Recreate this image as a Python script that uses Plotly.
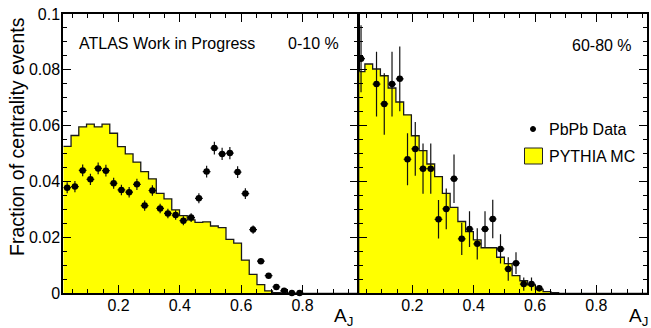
import plotly.graph_objects as go

# ---------------- data ----------------
bin_lo = 0.02
bin_hi = 0.98
n_bins = 38

# 0-10 % centrality
data_0_10 = [0.0378, 0.0382, 0.0440, 0.0408, 0.0447, 0.0439, 0.0394, 0.0370, 0.0362, 0.0390,
             0.0314, 0.0368, 0.0304, 0.0286, 0.0280, 0.0260, 0.0271, 0.0340, 0.0436, 0.0520,
             0.0499, 0.0502, 0.0434, 0.0357, 0.0228, 0.0115, 0.0063, 0.0023, 0.0009, 0.0001, 0.0001]
err_0_10 = [0.0020, 0.0020, 0.0021, 0.0020, 0.0021, 0.0021, 0.0020, 0.0019, 0.0019, 0.0020,
            0.0018, 0.0019, 0.0017, 0.0017, 0.0017, 0.0016, 0.0016, 0.0018, 0.0021, 0.0023,
            0.0022, 0.0022, 0.0021, 0.0019, 0.0015, 0.0010, 0.0008, 0.0005, 0.0003, 0.0001, 0.0001]
mc_0_10 = [0.0526, 0.0565, 0.0596, 0.0606, 0.0596, 0.0606, 0.0573, 0.0525, 0.0499, 0.0470,
           0.0436, 0.0410, 0.0358, 0.0338, 0.0299, 0.0278, 0.0263, 0.0254, 0.0256, 0.0241,
           0.0235, 0.0193, 0.0180, 0.0119, 0.0068, 0.0031, 0.0009, 0.0002]

# 60-80 % centrality
data_60_80 = [0.0840, None, 0.0749, 0.0678, 0.0749, 0.0768, 0.0480, 0.0517, 0.0446, 0.0446,
              0.0265, 0.0302, 0.0410, 0.0195, 0.0230, 0.0177, 0.0230, 0.0266, 0.0159, 0.0087,
              0.0108, 0.0033, 0.0033, 0.0018]
err_60_80 = [0.0120, None, 0.0116, 0.0110, 0.0116, 0.0116, 0.0093, 0.0096, 0.0090, 0.0090,
             0.0069, 0.0073, 0.0087, 0.0058, 0.0064, 0.0056, 0.0064, 0.0069, 0.0052, 0.0042,
             0.0039, 0.0024, 0.0024, 0.0012]
mc_60_80 = [0.0794, 0.0821, 0.0803, 0.0779, 0.0735, 0.0685, 0.0639, 0.0564, 0.0511, 0.0463,
            0.0418, 0.0358, 0.0308, 0.0257, 0.0221, 0.0191, 0.0163, 0.0163, 0.0129, 0.0106,
            0.0063, 0.0045, 0.0030, 0.0014, 0.0006, 0.0002]

panel_labels = ["0-10 %", "60-80 %"]
y_tick_vals = [0, 0.02, 0.04, 0.06, 0.08, 0.1]
x_tick_vals = [0.2, 0.4, 0.6, 0.8]

# ---------------- helpers ----------------
bw = (bin_hi - bin_lo) / n_bins
edges = [bin_lo + i * bw for i in range(n_bins + 1)]
centers = [bin_lo + (i + 0.5) * bw for i in range(n_bins)]

W, H = 651, 328
FONT = "Liberation Sans, Arial, Helvetica, sans-serif"
YELLOW = "#ffff00"


def px_x(p):
    return p / W


def px_y(p):
    return 1 - p / H


def hist_trace(vals, xa, ya):
    full = list(vals) + [0.0] * (n_bins - len(vals))
    return go.Scatter(x=edges, y=full + [full[-1]], mode="lines", line_shape="hv",
                      fill="tozeroy", fillcolor=YELLOW,
                      line=dict(color="#1a1a1a", width=1.3),
                      xaxis=xa, yaxis=ya, showlegend=False, hoverinfo="skip")


def data_trace(vals, errs, xa, ya):
    n = len(vals)
    return go.Scatter(x=centers[:n], y=vals, mode="markers",
                      marker=dict(color="black", size=6.5, symbol="circle"),
                      error_y=dict(type="data", array=errs, visible=True,
                                   color="#111111", thickness=1.2, width=0),
                      error_x=dict(type="constant", value=bw / 2, visible=True,
                                   color="#111111", thickness=1.2, width=0),
                      xaxis=xa, yaxis=ya, showlegend=False, cliponaxis=False)


fig = go.Figure()
fig.add_trace(hist_trace(mc_0_10, "x", "y"))
fig.add_trace(data_trace(data_0_10, err_0_10, "x", "y"))
fig.add_trace(hist_trace(mc_60_80, "x2", "y2"))
fig.add_trace(data_trace(data_60_80, err_60_80, "x2", "y2"))

tickfont = dict(family=FONT, size=16, color="black")
common_x = dict(showline=True, linewidth=2, linecolor="black", mirror="ticks",
                ticks="inside", ticklen=8, tickwidth=1, tickcolor="black",
                tickmode="array", tickvals=x_tick_vals, automargin=False,
                ticklabelstandoff=-4,
                minor=dict(ticks="inside", ticklen=4, tickwidth=1, tickcolor="black",
                           dtick=0.05, tick0=0),
                showgrid=False, zeroline=False, tickfont=tickfont)
common_y = dict(showline=True, linewidth=2, linecolor="black", mirror="ticks",
                ticks="inside", ticklen=8, tickwidth=1, tickcolor="black",
                tickmode="array", tickvals=y_tick_vals, automargin=False,
                ticklabelstandoff=-2,
                minor=dict(ticks="inside", ticklen=4, tickwidth=1, tickcolor="black",
                           dtick=0.005, tick0=0),
                showgrid=False, zeroline=False, tickfont=tickfont, range=[0, 0.1])

ydom = [px_y(293.3), px_y(14)]
fig.update_layout(
    template="none",
    width=W, height=H, margin=dict(l=0, r=0, t=0, b=0, pad=0, autoexpand=False),
    paper_bgcolor="white", plot_bgcolor="white",
    xaxis=dict(domain=[px_x(63.3), px_x(357.7)], range=[bin_lo, bin_hi], anchor="y", **common_x),
    yaxis=dict(domain=ydom, anchor="x", **common_y),
    xaxis2=dict(domain=[px_x(359.3), px_x(647)], range=[bin_lo + 0.007, 0.965], anchor="y2", **common_x),
    yaxis2=dict(domain=ydom, anchor="x2", showticklabels=False, **common_y),
    showlegend=False,
)

ann = []
ann.append(dict(text="Fraction of centrality events", x=px_x(17), y=px_y(137), xref="paper", yref="paper",
                textangle=-90, showarrow=False, font=dict(family=FONT, size=19.5, color="black"),
                xanchor="center", yanchor="middle"))
ann.append(dict(text="A<sub>J</sub>", x=px_x(355), y=px_y(317), xref="paper", yref="paper",
                showarrow=False, font=dict(family=FONT, size=19, color="black"),
                xanchor="right", yanchor="middle"))
ann.append(dict(text="A<sub>J</sub>", x=px_x(650), y=px_y(317), xref="paper", yref="paper",
                showarrow=False, font=dict(family=FONT, size=19, color="black"),
                xanchor="right", yanchor="middle"))
ann.append(dict(text="ATLAS Work in Progress", x=px_x(77), y=px_y(43), xref="paper", yref="paper",
                showarrow=False, font=dict(family=FONT, size=16, color="black"),
                xanchor="left", yanchor="middle"))
ann.append(dict(text=panel_labels[0], x=px_x(341), y=px_y(43), xref="paper", yref="paper",
                showarrow=False, font=dict(family=FONT, size=16, color="black"),
                xanchor="right", yanchor="middle"))
ann.append(dict(text=panel_labels[1], x=px_x(634), y=px_y(45), xref="paper", yref="paper",
                showarrow=False, font=dict(family=FONT, size=16, color="black"),
                xanchor="right", yanchor="middle"))
ann.append(dict(text="PbPb Data", x=px_x(547), y=px_y(129), xref="paper", yref="paper",
                showarrow=False, font=dict(family=FONT, size=16, color="black"),
                xanchor="left", yanchor="middle"))
ann.append(dict(text="PYTHIA MC", x=px_x(547), y=px_y(156), xref="paper", yref="paper",
                showarrow=False, font=dict(family=FONT, size=16, color="black"),
                xanchor="left", yanchor="middle"))
fig.update_layout(annotations=ann)

shapes = [
    dict(type="circle", xref="paper", yref="paper", x0=px_x(530.5), x1=px_x(535.5),
         y0=px_y(131.5), y1=px_y(126.5), fillcolor="black", line=dict(color="black", width=1)),
    dict(type="rect", xref="paper", yref="paper", x0=px_x(524.5), x1=px_x(542.5),
         y0=px_y(164), y1=px_y(148), fillcolor=YELLOW, line=dict(color="#222222", width=1)),
]
fig.update_layout(shapes=shapes)

fig.write_html("out.html")
